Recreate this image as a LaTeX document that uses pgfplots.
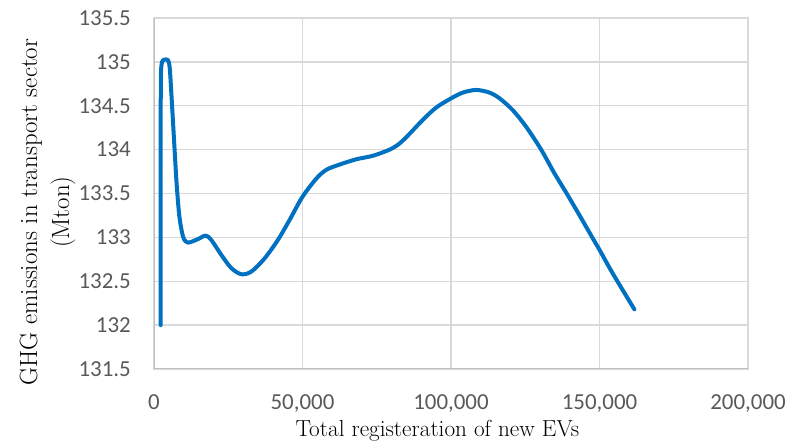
\documentclass[border=0pt]{standalone}
\usepackage{fontspec}
\usepackage{pgfplots}
\pgfplotsset{compat=1.18}
\newfontfamily\carlito{Carlito}
\definecolor{lineblue}{RGB}{0,112,192}
\definecolor{gridgray}{RGB}{217,217,217}
\definecolor{axgray}{RGB}{191,191,191}
\definecolor{labgray}{RGB}{89,89,89}
\begin{document}
\begin{tikzpicture}
\path[use as bounding box] (-154bp,-73bp) rectangle (649bp,369bp);
\begin{axis}[
  at={(0,0)}, anchor=south west,
  width=594bp, height=351bp, scale only axis,
  xmin=0, xmax=200000, ymin=131.5, ymax=135.5,
  scaled x ticks=false, scaled y ticks=false,
  xtick={0,50000,100000,150000,200000},
  xticklabels={0,{50,000},{100,000},{150,000},{200,000}},
  ytick={131.5,132,132.5,133,133.5,134,134.5,135,135.5},
  yticklabels={131.5,132,132.5,133,133.5,134,134.5,135,135.5},
  major tick length=0pt,
  grid=major, grid style={gridgray, line width=1.3bp},
  axis line style={gridgray, line width=1.3bp},
  tick label style={font=\carlito\fontsize{23}{27}\selectfont, text=labgray, inner sep=0pt},
  xticklabel style={anchor=north, yshift=-25bp},
  yticklabel style={anchor=east, xshift=-23bp},
  xlabel={Total registeration of new EVs},
  xlabel style={at={(axis description cs:0.477,-0.1915)}, anchor=base, font=\fontsize{23.3}{27}\selectfont, inner sep=0pt},
  ylabel={GHG emissions in transport sector\\(Mton)},
  ylabel style={at={(axis description cs:-0.1793,0.447)}, anchor=center, align=center, font=\fontsize{25}{32}\selectfont, inner sep=0pt},
]
\draw[axgray, line width=1.3bp] (rel axis cs:0,0) -- (rel axis cs:0,1);
\draw[axgray, line width=1.3bp] (rel axis cs:0,0) -- (rel axis cs:1,0);
\addplot[lineblue, line width=4bp, line cap=round, line join=round, smooth, tension=0.5] coordinates {
(2250,132.0) (2270,134.5) (2350,134.88) (2700,135.0) (3100,135.02) (4000,135.03) (4700,135.02)
(5300,134.93) (6000,134.55) (6800,134.08) (7600,133.62) (8500,133.25) (9420,133.06)
(10100,132.98) (11460,132.94) (14800,132.98) (17390,133.02) (19300,132.97)
(22670,132.80) (26030,132.65) (29390,132.58) (32760,132.61) (37230,132.76)
(41700,132.97) (45680,133.20) (49950,133.46) (54660,133.67) (58030,133.77)
(62500,133.83) (68120,133.89) (73700,133.93) (79320,134.00) (82680,134.07)
(86050,134.18) (90530,134.34) (95030,134.48) (100080,134.585) (103980,134.65)
(108490,134.68) (112960,134.65) (116330,134.585) (120800,134.45) (125310,134.26)
(130360,134.0) (134830,133.73) (139310,133.48) (143810,133.22) (147720,132.99)
(149970,132.86) (154440,132.59) (161740,132.18)
};
\end{axis}
\end{tikzpicture}
\end{document}
